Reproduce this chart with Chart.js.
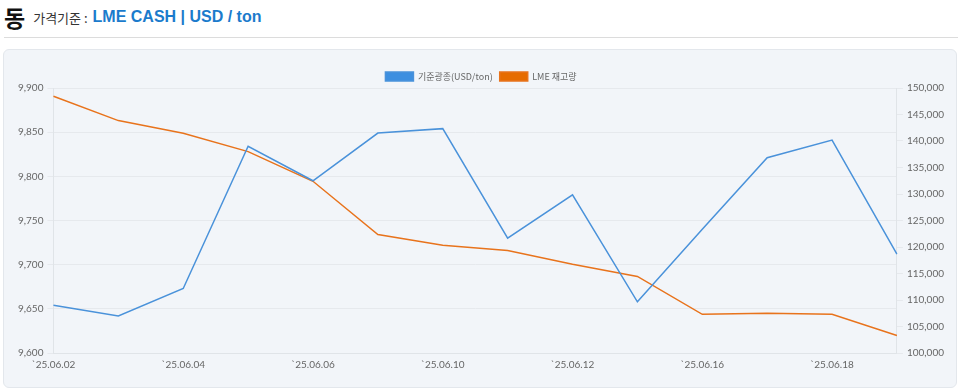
<!DOCTYPE html>
<html><head><meta charset="utf-8">
<script src="https://cdn.jsdelivr.net/npm/chart.js@4"></script>
<style>
html,body{margin:0;padding:0;background:#fff;width:960px;height:390px;overflow:hidden;font-family:"Noto Sans CJK KR","Noto Sans",sans-serif;}
#title{position:absolute;left:4px;top:2px;height:30px;display:flex;align-items:center;white-space:nowrap;}
#title .big{font-size:23px;font-weight:bold;color:#111;}
#title .sub{font-size:13px;color:#333;margin-left:8px;}
#title .unit{font-size:16px;font-weight:bold;color:#1b7bcc;margin-left:5px;font-family:Arial,"Liberation Sans",sans-serif;}
#sep{position:absolute;left:4px;top:37px;width:954px;height:1px;background:#dcdcdc;}
#card{position:absolute;left:3px;top:49px;width:952px;height:337px;background:#f2f5f9;border:1px solid #e3e7ec;border-radius:6px;}
#wrap{position:absolute;left:14px;top:65px;width:934px;height:312px;}
</style></head>
<body>
<div id="title"><span class="big">동</span><span class="sub">가격기준 :</span><span class="unit">LME CASH | USD / ton</span></div>
<div id="sep"></div>
<div id="card"></div>
<div id="wrap"><canvas id="c"></canvas></div>
<script>
const categories = ["`25.06.02","`25.06.03","`25.06.04","`25.06.05","`25.06.06","`25.06.09","`25.06.10","`25.06.11","`25.06.12","`25.06.13","`25.06.16","`25.06.17","`25.06.18","`25.06.19"];
const priceUSD = [9654, 9642, 9673, 9834, 9795, 9849, 9854, 9730, 9779, 9658, 9740, 9821, 9841, 9712];
const lmeStock = [148450, 143850, 141450, 138000, 132400, 122350, 120350, 119350, 116750, 114450, 107300, 107480, 107300, 103300];
const seriesNames = ["기준광종(USD/ton)", "LME 재고량"];

const fontFam = "Lato, 'Noto Sans CJK KR', sans-serif";
const legendTrim = {
  id: 'legendTrim',
  beforeInit(chart) {
    const orig = chart.legend.fit;
    chart.legend.fit = function () { orig.call(this); this.height -= 3; };
  }
};
new Chart(document.getElementById('c'), {
  type: 'line',
  data: {
    labels: categories,
    datasets: [
      {label: seriesNames[0], data: priceUSD, yAxisID: 'y', borderColor: '#4a92da', backgroundColor: '#3d8fe0', borderWidth: 1.5, pointRadius: 0, tension: 0},
      {label: seriesNames[1], data: lmeStock, yAxisID: 'y1', borderColor: '#e8731c', backgroundColor: '#e66c00', borderWidth: 1.5, pointRadius: 0, tension: 0}
    ]
  },
  plugins: [legendTrim],
  options: {
    responsive: true, maintainAspectRatio: false, animation: false,
    layout: {padding: 0},
    plugins: {
      legend: {position: 'top', labels: {boxWidth: 28, boxHeight: 9, font: {size: 9, family: "'Noto Sans CJK KR', sans-serif"}, color: '#666', padding: 7}},
      tooltip: {enabled: false}
    },
    scales: {
      x: {
        grid: {display: false, drawTicks: false},
        border: {display: true, color: '#e0e4e8'},
        ticks: {maxRotation: 0, autoSkip: true, autoSkipPadding: 60, font: {size: 10, family: fontFam}, color: '#666', padding: 6}
      },
      y: {
        position: 'left', min: 9600, max: 9900,
        ticks: {stepSize: 50, font: {size: 10, family: fontFam}, color: '#666', padding: 4, callback: v => v.toLocaleString('en-US')},
        grid: {color: '#e6e9ed', tickLength: 6},
        border: {color: '#e0e4e8'}
      },
      y1: {
        position: 'right', min: 100000, max: 150000,
        ticks: {stepSize: 5000, font: {size: 10, family: fontFam}, color: '#666', padding: 4, callback: v => v.toLocaleString('en-US')},
        grid: {drawOnChartArea: false, color: '#e6e9ed', tickLength: 6},
        border: {color: '#e0e4e8'}
      }
    }
  }
});
</script>
</body></html>
